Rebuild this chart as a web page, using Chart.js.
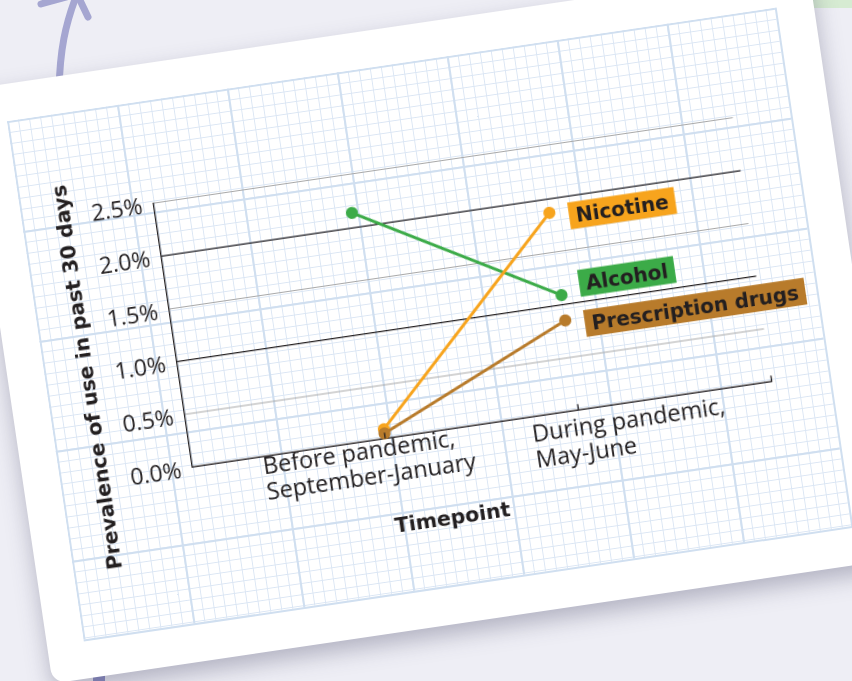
<!DOCTYPE html>
<html>
<head>
<meta charset="utf-8">
<script src="https://cdn.jsdelivr.net/npm/chart.js@4.4.1/dist/chart.umd.min.js"></script>
<style>
  html, body { margin: 0; padding: 0; }
  body { width: 852px; height: 681px; overflow: hidden; background: #eeeef5; position: relative; }
  #deco { position: absolute; left: 0; top: 0; }
  #card {
    position: absolute; left: -35px; top: 89.8px; width: 852px; height: 600px;
    background: #ffffff; border-radius: 14px;
    transform-origin: 0 0; transform: rotate(-8.4deg);
    box-shadow: 0 10px 22px rgba(70, 70, 100, 0.35);
  }
  #paper {
    position: absolute; left: 37px; top: 37px; width: 778px; height: 526px;
    box-sizing: border-box;
    border-right: 2px solid #d0dff0; border-bottom: 2px solid #d0dff0;
    background-image:
      linear-gradient(to right, #d0dff0 0, #d0dff0 2px, transparent 2px),
      linear-gradient(to bottom, #d0dff0 0, #d0dff0 2px, transparent 2px),
      linear-gradient(to right, #dbe6f4 0, #dbe6f4 1px, transparent 1px),
      linear-gradient(to bottom, #dbe6f4 0, #dbe6f4 1px, transparent 1px);
    background-size: 111.14px 111.14px, 111.14px 111.14px, 11.114px 11.114px, 11.114px 11.114px;
  }
  #chart { position: absolute; left: 0; top: 0; }
</style>
</head>
<body>
<svg id="deco" width="852" height="681">
  <rect x="790" y="0" width="62" height="8" fill="#d6ebd2"/>
  <path d="M 59 90 C 60 50, 65 25, 77 -6" stroke="#a5a6d1" stroke-width="7" fill="none" stroke-linecap="round"/>
  <path d="M 77 -6 L 88 17 M 77 -6 L 41 4" stroke="#a5a6d1" stroke-width="7" fill="none" stroke-linecap="round"/>
  <rect x="93" y="672" width="12" height="9" fill="#8d8ec4"/>
</svg>
<div id="card">
  <div id="paper"></div>
  <canvas id="chart" width="852" height="600"></canvas>
</div>
<script>
// ---- data ----
const categories = [
  ['Before pandemic,', 'September-January'],
  ['During pandemic,', 'May-June']
];
const seriesNames = ['Alcohol', 'Nicotine', 'Prescription drugs'];
const alcohol = [2.14, 1.09];
const nicotine = [0.09, 1.87];
const prescription = [0.05, 0.85];
const yTicks = [0, 0.5, 1.0, 1.5, 2.0, 2.5];
const xTitle = 'Timepoint';
const yTitle = 'Prevalence of use in past 30 days';

const colors = { 'Alcohol': '#3cab48', 'Nicotine': '#f7a41d', 'Prescription drugs': '#b87b2b' };
const labelDy = { 'Alcohol': -9, 'Nicotine': 6, 'Prescription drugs': 6 };
const drawOrder = { 'Alcohol': 2, 'Nicotine': 1, 'Prescription drugs': 0 };
const seriesValues = [alcohol, nicotine, prescription];

const TEXT = '#231f20';
const BOLD = 'bold 20.5px "DejaVu Sans"';
const REG = '23.5px "Open Sans"';

const toPoints = vals => vals.map((v, i) => ({ x: i + 1, y: v }));

const annot = {
  id: 'annot',
  afterDatasetsDraw(chart) {
    const { ctx, chartArea: a, scales: { x } } = chart;
    ctx.save();
    // small upward tick marks on the x axis
    ctx.strokeStyle = TEXT; ctx.lineWidth = 1.3;
    for (let v = 1; v <= categories.length + 1; v++) {
      const px = x.getPixelForValue(v);
      ctx.beginPath(); ctx.moveTo(px, a.bottom); ctx.lineTo(px, a.bottom - 6); ctx.stroke();
    }
    // series label boxes at the last point of each line
    ctx.font = 'bold 20px "DejaVu Sans"';
    ctx.textAlign = 'left'; ctx.textBaseline = 'alphabetic';
    chart.data.datasets.forEach((ds, i) => {
      const meta = chart.getDatasetMeta(i);
      const pt = meta.data[meta.data.length - 1];
      const w = ctx.measureText(ds.label).width + 14;
      const h = 27;
      const left = pt.x + 19, cy = pt.y + labelDy[ds.label];
      ctx.fillStyle = ds.borderColor;
      ctx.fillRect(left, cy - h / 2, w, h);
      ctx.fillStyle = TEXT;
      ctx.fillText(ds.label, left + 7, cy + 7.3);
    });
    ctx.restore();
  },
  afterDraw(chart) {
    const { ctx, chartArea: a, scales: { x } } = chart;
    ctx.save();
    ctx.fillStyle = TEXT;
    // category labels
    ctx.font = REG; ctx.textAlign = 'left'; ctx.textBaseline = 'alphabetic';
    const place = [ { dx: -125, dy: 17.5 }, { dx: -49.3, dy: 25 } ];
    categories.forEach((lines, i) => {
      const px = x.getPixelForValue(i + 1);
      lines.forEach((t, j) => ctx.fillText(t, px + place[i].dx, a.bottom + place[i].dy + j * 26));
    });
    // axis titles
    ctx.font = BOLD; ctx.textAlign = 'center';
    ctx.fillText(xTitle, x.getPixelForValue(1) + 55, a.bottom + 94.7);
    ctx.translate(a.left - 84, (a.top + a.bottom) / 2 + 29);
    ctx.rotate(-Math.PI / 2);
    ctx.fillText(yTitle, 0, 0);
    ctx.restore();
  }
};

new Chart(document.getElementById('chart'), {
  type: 'line',
  data: {
    datasets: seriesNames.map((name, i) => ({
      label: name,
      data: toPoints(seriesValues[i]),
      borderColor: colors[name],
      backgroundColor: colors[name],
      pointBackgroundColor: colors[name],
      pointBorderWidth: 0,
      pointRadius: 6,
      borderWidth: 3,
      order: drawOrder[name],
      clip: false,
      tension: 0
    }))
  },
  options: {
    responsive: false,
    devicePixelRatio: 2,
    animation: false,
    events: [],
    layout: { padding: { left: 0, right: 96.5, top: 139.7, bottom: 0 } },
    plugins: { legend: { display: false }, tooltip: { enabled: false } },
    scales: {
      x: {
        type: 'linear', min: 0, max: categories.length + 1,
        ticks: { display: false, stepSize: 1 },
        grid: { display: false },
        border: { display: true, color: TEXT, width: 1.3 },
        title: { display: false, text: xTitle },
        afterFit: s => { s.height = 193.7; }
      },
      y: {
        min: 0, max: 2.5,
        afterBuildTicks: s => { s.ticks = yTicks.map(v => ({ value: v })); },
        ticks: {
          callback: v => Number(v).toFixed(1) + '%',
          font: { family: 'Open Sans', size: 23 },
          color: TEXT, padding: 11, labelOffset: 2.5
        },
        grid: {
          drawTicks: false,
          color: c => (c.tick && Math.abs(c.tick.value % 1) < 1e-9) ? TEXT : '#a9a9a9',
          lineWidth: c => (c.tick && Math.abs(c.tick.value % 1) < 1e-9) ? 1.3 : 1
        },
        border: { display: true, color: TEXT, width: 1.3 },
        title: { display: false, text: yTitle },
        afterFit: s => { s.width = 169.5; }
      }
    }
  },
  plugins: [annot]
});
</script>
</body>
</html>
